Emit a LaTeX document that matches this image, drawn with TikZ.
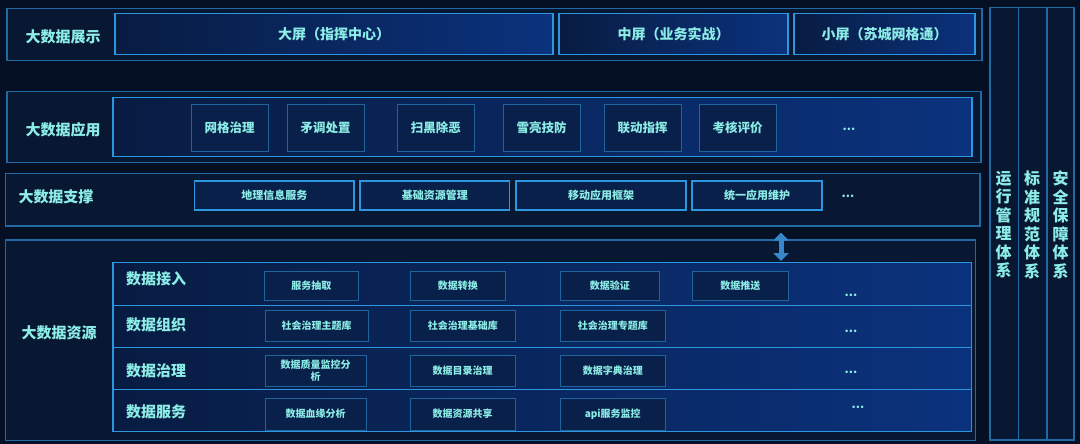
\documentclass[tikz,border=0pt]{standalone}
\usepackage{fontspec}
\setmainfont{Noto Sans CJK SC}
\usetikzlibrary{arrows.meta}
\definecolor{bgc}{RGB}{5,16,36}
\definecolor{outerfill}{RGB}{8,24,50}
\definecolor{outerc}{RGB}{32,105,165}
\definecolor{brightc}{RGB}{45,150,225}
\definecolor{panelL}{RGB}{8,28,66}
\definecolor{panelR}{RGB}{11,50,125}
\definecolor{itemc}{RGB}{32,100,158}
\definecolor{itemfill}{RGB}{9,32,74}
\definecolor{txtc}{RGB}{140,236,230}
\definecolor{arrowc}{RGB}{55,135,205}
\newcommand\bx[7]{\node[#6, minimum width={#4pt-#2pt}, minimum height={#5pt-#3pt}] (#1) at ({(#2+#4)/2},{(#3+#5)/2}) {#7};}
\begin{document}
\begin{tikzpicture}[x=1pt,y=-1pt,
  outerbox/.style={draw=outerc, line width=1.1pt, fill=outerfill, inner sep=0pt},
  panel/.style={draw=brightc, line width=1.4pt, left color=panelL, right color=panelR, inner sep=0pt},
  scr/.style={panel, text=txtc, font=\bfseries\fontsize{14}{16}\selectfont},
  item/.style={draw=itemc, line width=0.8pt, fill=itemfill, inner sep=0pt, text=txtc, font=\bfseries\fontsize{12.5}{14}\selectfont},
  sitem/.style={draw=brightc, line width=1.1pt, fill=itemfill, inner sep=0pt, text=txtc, font=\bfseries\fontsize{11}{13}\selectfont},
  ditem/.style={draw=itemc, line width=0.8pt, fill=itemfill, inner sep=0pt, text=txtc, align=center, font=\bfseries\fontsize{10}{12}\selectfont},
  lbl/.style={text=txtc, inner sep=0pt, font=\bfseries\fontsize{15}{16}\selectfont},
  dots/.style={text=txtc, inner sep=0pt, font=\bfseries\fontsize{12}{12}\selectfont},
  col/.style={draw=outerc, line width=1.1pt, fill=outerfill, inner sep=0pt},
  vtxt/.style={text=txtc, inner sep=0pt, align=center, font=\bfseries\fontsize{16}{18.5}\selectfont}
]
\fill[bgc] (0,0) rectangle (1080,444);
\useasboundingbox (0,0) rectangle (1080,444);

% Row 1
\bx{r1}{7}{8.5}{982}{60.5}{outerbox}{}
\node[lbl] (l1) at (63,37) {大数据展示};
\bx{s1}{115}{13.5}{553}{54.5}{scr}{大屏（指挥中心）}
\bx{s2}{559}{13.5}{788}{54.5}{scr}{中屏（业务实战）}
\bx{s3}{794}{13.5}{975}{54.5}{scr}{小屏（苏城网格通）}

% Row 2
\bx{r2}{7}{91.5}{981}{162.5}{outerbox}{}
\node[lbl] (l2) at (63,130) {大数据应用};
\bx{p2}{113}{97.5}{972}{156.5}{panel}{}
\bx{a1}{191}{104}{268}{151.5}{item}{网格治理}
\bx{a2}{287}{104}{364}{151.5}{item}{矛调处置}
\bx{a3}{397}{104}{474.5}{151.5}{item}{扫黑除恶}
\bx{a4}{503}{104}{580}{151.5}{item}{雪亮技防}
\bx{a5}{604}{104}{681}{151.5}{item}{联动指挥}
\bx{a6}{699}{104}{776}{151.5}{item}{考核评价}
\node[dots] (d2) at (849,129) {...};

% Row 3
\bx{r3}{5.5}{173.5}{980}{226}{outerbox}{}
\node[lbl] (l3) at (56,197) {大数据支撑};
\bx{b1}{194.5}{181}{354}{210}{sitem}{地理信息服务}
\bx{b2}{360}{181}{509.5}{210}{sitem}{基础资源管理}
\bx{b3}{516}{181}{686}{210}{sitem}{移动应用框架}
\bx{b4}{692}{181}{822}{210}{sitem}{统一应用维护}
\node[dots] (d3) at (848,196) {...};

% Row 4
\bx{r4}{5.5}{240}{975.5}{440.5}{outerbox}{}
\node[lbl] (l4) at (59,333) {大数据资源};
\bx{q1}{113}{262.5}{971.5}{305.5}{panel}{}
\bx{q2}{113}{305.5}{971.5}{347.5}{panel}{}
\bx{q3}{113}{347.5}{971.5}{389.5}{panel}{}
\bx{q4}{113}{389.5}{971.5}{431.5}{panel}{}
\node[lbl] (m1) at (156,279) {数据接入};
\node[lbl] (m2) at (156,325) {数据组织};
\node[lbl] (m3) at (156,371) {数据治理};
\node[lbl] (m4) at (156,412) {数据服务};

\bx{c11}{264.5}{271}{358}{300.5}{ditem}{服务抽取}
\bx{c12}{410}{271}{505.5}{300.5}{ditem}{数据转换}
\bx{c13}{560}{271}{659.5}{300.5}{ditem}{数据验证}
\bx{c14}{692.5}{271}{788}{300.5}{ditem}{数据推送}
\node[dots] (d41) at (851,295) {...};

\bx{c21}{265}{310}{368}{341.5}{ditem}{社会治理主题库}
\bx{c22}{410}{310}{515.5}{341.5}{ditem}{社会治理基础库}
\bx{c23}{560}{310}{665.5}{341.5}{ditem}{社会治理专题库}
\node[dots] (d42) at (851,331) {...};

\bx{c31}{265}{355}{366}{386.5}{ditem}{数据质量监控分\\析}
\bx{c32}{410}{355}{515}{386.5}{ditem}{数据目录治理}
\bx{c33}{560}{355}{665.5}{386.5}{ditem}{数据字典治理}
\node[dots] (d43) at (851,372) {...};

\bx{c41}{265}{398}{366}{430}{ditem}{数据血缘分析}
\bx{c42}{410}{398}{515}{430}{ditem}{数据资源共享}
\bx{c43}{560}{398}{665.5}{430}{ditem}{api服务监控}
\node[dots] (d44) at (858,407) {...};

% Arrow
\coordinate (at) at (781,232.5);
\coordinate (ab) at (781,261);
\draw[arrowc, line width=5pt, {Triangle[width=15pt,length=8pt]}-{Triangle[width=15pt,length=8pt]}] (at) -- (ab);

% Right columns
\bx{k1}{990}{7.5}{1018.5}{440}{col}{}
\bx{k2}{1018.5}{7.5}{1047}{440}{col}{}
\bx{k3}{1047}{7.5}{1074}{440}{col}{}
\node[vtxt, anchor=north] (v1) at (1003.5,171) {运\\行\\管\\理\\体\\系};
\node[vtxt, anchor=north] (v2) at (1032,171) {标\\准\\规\\范\\体\\系};
\node[vtxt, anchor=north] (v3) at (1060.5,171) {安\\全\\保\\障\\体\\系};
\end{tikzpicture}
\end{document}
